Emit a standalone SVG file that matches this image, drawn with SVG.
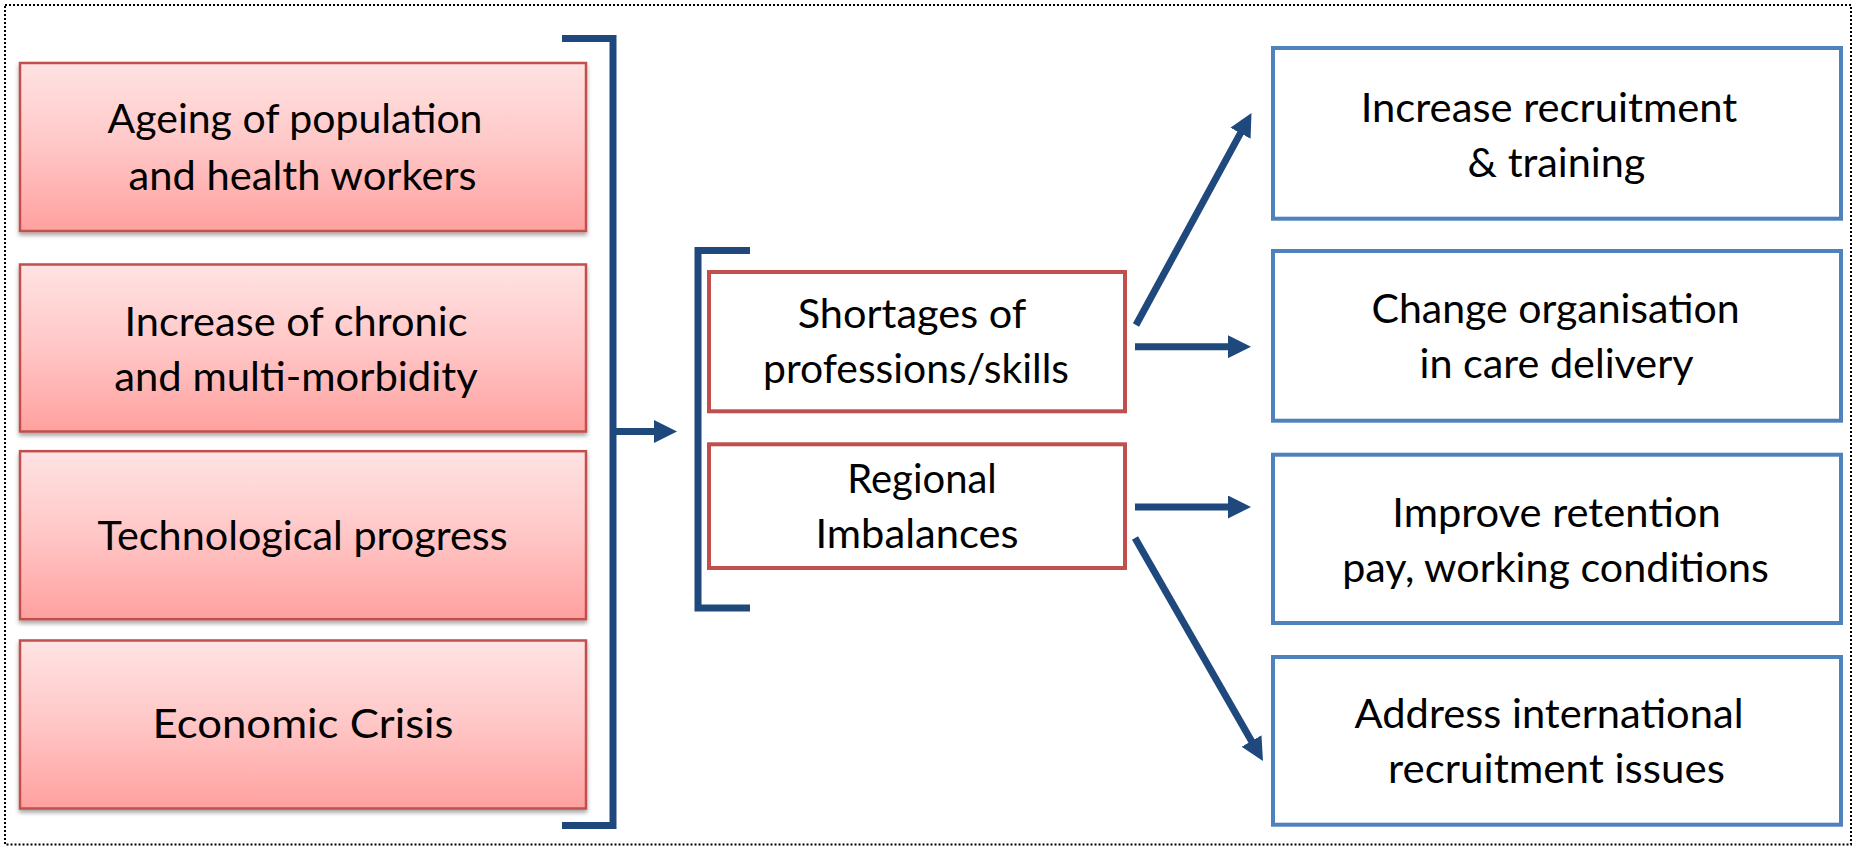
<svg xmlns="http://www.w3.org/2000/svg" width="1856" height="847" viewBox="0 0 1856 847">
<defs>
<linearGradient id="pinkGrad" x1="0" y1="0" x2="0" y2="1">
<stop offset="0" stop-color="#FFE3E3"/>
<stop offset="0.5" stop-color="#FFC6C6"/>
<stop offset="1" stop-color="#FFA19F"/>
</linearGradient>
<filter id="shadow" x="-5%" y="-10%" width="110%" height="125%">
<feDropShadow dx="0" dy="3" stdDeviation="2" flood-color="#000" flood-opacity="0.35"/>
</filter>
<marker id="arrow" markerUnits="userSpaceOnUse" markerWidth="23" markerHeight="23" viewBox="0 0 23 23" refX="8" refY="11.5" orient="auto">
<path d="M0,0 L23,11.5 L0,23 z" fill="#1F497D"/>
</marker>
<style>
.cause{fill:url(#pinkGrad);stroke:#C0504D;stroke-width:2.5;filter:url(#shadow);}
.issue{fill:#FFFFFF;stroke:#C0504D;stroke-width:4;}
.action{fill:#FFFFFF;stroke:#4F81BD;stroke-width:4;}
.lbl{font-family:Lato,"Liberation Sans",sans-serif;font-size:40px;fill:#000;text-anchor:middle;}
.conn{fill:none;stroke:#1F497D;stroke-width:7;}
.arr{fill:none;stroke:#1F497D;stroke-width:7;marker-end:url(#arrow);}
.frame{fill:none;stroke:#000;stroke-width:2;stroke-dasharray:2 2;}
</style>
</defs>
<rect class="frame" x="5" y="5" width="1846" height="839.5"/>

<g id="cause-ageing">
<rect class="cause" x="20" y="63" width="566" height="168"/>
<text class="lbl" x="295" y="133.3" textLength="375" lengthAdjust="spacingAndGlyphs">Ageing of population</text>
<text class="lbl" x="302.6" y="190" textLength="348" lengthAdjust="spacingAndGlyphs">and health workers</text>
</g>
<g id="cause-chronic">
<rect class="cause" x="20" y="264.5" width="566" height="167"/>
<text class="lbl" x="296" y="336" textLength="343" lengthAdjust="spacingAndGlyphs">Increase of chronic</text>
<text class="lbl" x="296" y="390.7" textLength="363.5" lengthAdjust="spacingAndGlyphs">and multi-morbidity</text>
</g>
<g id="cause-tech">
<rect class="cause" x="20" y="451.2" width="566" height="168"/>
<text class="lbl" x="302.6" y="550" textLength="410" lengthAdjust="spacingAndGlyphs">Technological progress</text>
</g>
<g id="cause-economic">
<rect class="cause" x="20" y="640.5" width="566" height="168"/>
<text class="lbl" x="303" y="738.3" textLength="301" lengthAdjust="spacingAndGlyphs">Economic Crisis</text>
</g>

<g id="issue-shortages">
<rect class="issue" x="709" y="272" width="416" height="139.3"/>
<text class="lbl" x="912" y="328" textLength="228.6" lengthAdjust="spacingAndGlyphs">Shortages of</text>
<text class="lbl" x="916" y="383" textLength="306" lengthAdjust="spacingAndGlyphs">professions/skills</text>
</g>
<g id="issue-regional">
<rect class="issue" x="709" y="444.3" width="416" height="123.7"/>
<text class="lbl" x="922" y="493.3" textLength="149.5" lengthAdjust="spacingAndGlyphs">Regional</text>
<text class="lbl" x="917" y="548.3" textLength="203" lengthAdjust="spacingAndGlyphs">Imbalances</text>
</g>

<g id="action-recruitment">
<rect class="action" x="1273" y="48" width="568" height="170.7"/>
<text class="lbl" x="1549" y="121.7" textLength="376.6" lengthAdjust="spacingAndGlyphs">Increase recruitment</text>
<text class="lbl" x="1556.5" y="176.7" textLength="177.8" lengthAdjust="spacingAndGlyphs">&amp; training</text>
</g>
<g id="action-organisation">
<rect class="action" x="1273" y="251" width="568" height="169.7"/>
<text class="lbl" x="1555.6" y="323.3" textLength="368" lengthAdjust="spacingAndGlyphs">Change organisation</text>
<text class="lbl" x="1556.5" y="378.3" textLength="274" lengthAdjust="spacingAndGlyphs">in care delivery</text>
</g>
<g id="action-retention">
<rect class="action" x="1273" y="454.7" width="568" height="168.3"/>
<text class="lbl" x="1556.5" y="526.7" textLength="328.4" lengthAdjust="spacingAndGlyphs">Improve retention</text>
<text class="lbl" x="1555.6" y="581.7" textLength="426.8" lengthAdjust="spacingAndGlyphs">pay, working conditions</text>
</g>
<g id="action-international">
<rect class="action" x="1273" y="657" width="568" height="167.7"/>
<text class="lbl" x="1549" y="728.3" textLength="389" lengthAdjust="spacingAndGlyphs">Address international</text>
<text class="lbl" x="1556.5" y="783.3" textLength="336.8" lengthAdjust="spacingAndGlyphs">recruitment issues</text>
</g>

<g id="connectors">
<path class="conn" d="M562,38.5 H613 V825.5 H562"/>
<path class="arr" d="M613,431.5 H662"/>
<path class="conn" d="M750,250.5 H698 V608 H750"/>
<path class="arr" d="M1135,346.7 H1236"/>
<path class="arr" d="M1135,507 H1236"/>
<path class="arr" d="M1136,325 L1244.3,126.2"/>
<path class="arr" d="M1135,538 L1255.5,748"/>
</g>
</svg>
